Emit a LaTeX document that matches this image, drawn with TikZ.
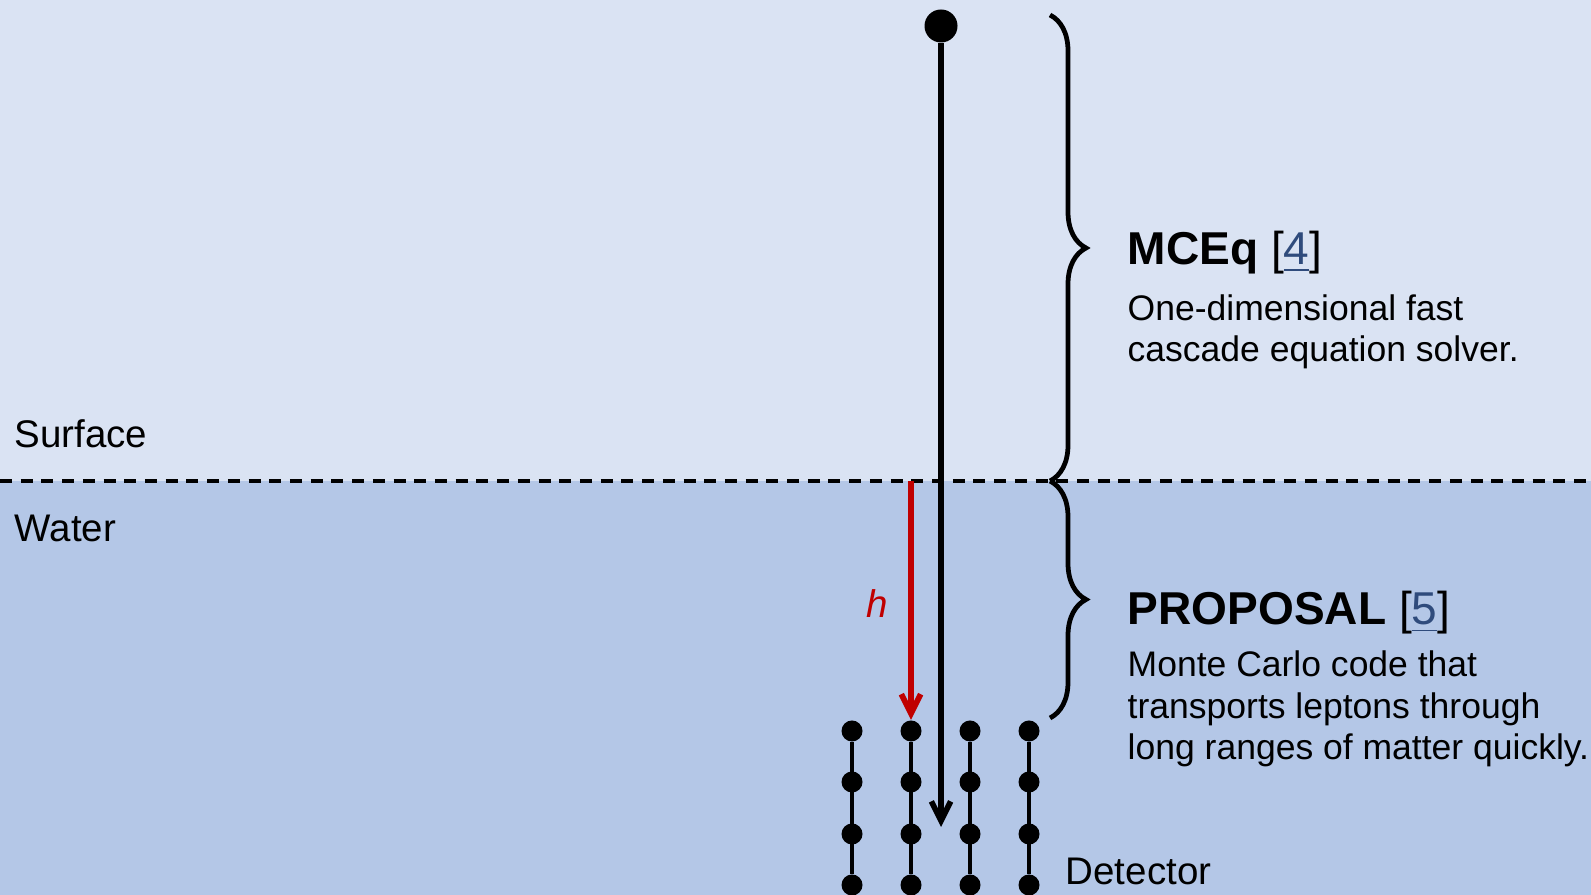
\documentclass[tikz,border=0pt]{standalone}
\usepackage{fontspec}
\setmainfont{Liberation Sans}
\usetikzlibrary{arrows.meta,decorations.pathreplacing}
\definecolor{sky}{HTML}{DAE3F3}
\definecolor{water}{HTML}{B4C7E7}
\definecolor{depthred}{HTML}{C00000}
\definecolor{refblue}{HTML}{2F4B7C}

\begin{document}
\begin{tikzpicture}[x=.01cm, y=-.01cm,
    dot/.style={circle, fill=black, inner sep=0pt, minimum size=.21cm},
    lbl/.style={anchor=base west, inner sep=0pt, font=\fontsize{10.95}{13}\selectfont},
    head/.style={anchor=base west, inner sep=0pt, font=\fontsize{13.1}{15}\selectfont\bfseries},
    txt/.style={anchor=base west, inner sep=0pt, align=left, font=\fontsize{10.1}{11.9}\selectfont},
    track/.style={line width=1.6pt, -{Straight Barb[length=5.5pt,width=5.5pt]}},
    curly/.style={line width=1.35pt, decorate, decoration={brace, amplitude=.36cm}}]
    \useasboundingbox (0,0) rectangle (1591,895);
    \fill[sky] (0,0) rectangle (1591,481);
    \fill[water] (0,481) rectangle (1591,895);
    \draw[dash pattern=on .12cm off .087cm, line width=.9pt] (0,481) -- (1591,481);
    \node[lbl] (surf) at (14,448) {Surface};
    \node[lbl] (wat) at (14,542) {Water};
    % detector strings
    \foreach \c/\x in {1/852, 2/911, 3/970, 4/1029}{
        \foreach \r/\y in {1/731, 2/782, 3/834, 4/885}
            \node[dot] (d\c\r) at (\x,\y) {};
        \draw[line width=.95pt] (d\c1) -- (d\c4);
    }
    \node[lbl] (det) at (1065,885) {Detector};
    % depth below surface
    \coordinate (hstart) at (911,481);
    \draw[track, depthred] (hstart) -- (d21.north);
    \node[text=depthred, inner sep=0pt, font=\fontsize{10.95}{13}\selectfont\itshape] (hlbl) at (877,604) {h};
    % incoming track
    \node[circle, fill=black, inner sep=0pt, minimum size=.33cm] (src) at (941,26) {};
    \coordinate (trackend) at (941,827);
    \draw[track] (src) -- (trackend);
    % braces
    \coordinate (mceqtop) at (1050,15);
    \coordinate (mceqbot) at (1050,481);
    \coordinate (propbot) at (1050,718);
    \draw[curly] (mceqtop) -- (mceqbot);
    \draw[curly] (mceqbot) -- (propbot);
    % text blocks (base = last line)
    \node[head] (mceq) at (1127,265) {MCEq \mdseries[\textcolor{refblue}{\underline{4}}]};
    \node[txt] (mceqtxt) at (1127,362) {One-dimensional fast\\cascade equation solver.};
    \node[head] (prop) at (1127,625) {PROPOSAL \mdseries[\textcolor{refblue}{\underline{5}}]};
    \node[txt] (proptxt) at (1127,760) {Monte Carlo code that\\transports leptons through\\long ranges of matter quickly.};
\end{tikzpicture}
\end{document}
